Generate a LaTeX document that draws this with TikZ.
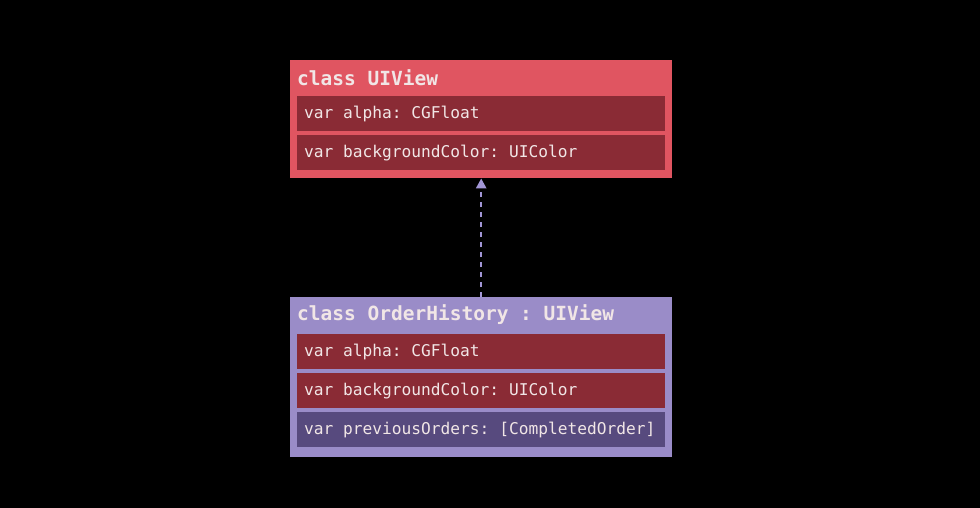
\documentclass[tikz,border=0pt]{standalone}
\usepackage{fontspec}
\setmonofont{DejaVu Sans Mono}
\usetikzlibrary{arrows.meta}
\definecolor{boxred}{HTML}{E05561}
\definecolor{rowred}{HTML}{8A2B35}
\definecolor{boxpurple}{HTML}{9A8CC8}
\definecolor{rowpurple}{HTML}{574A7E}
\definecolor{txt}{HTML}{F1E6E6}
\definecolor{arrowc}{HTML}{A296D6}
\tikzset{
  classbox/.style={fill=#1, draw=none, anchor=north west, minimum width=382pt, inner sep=0pt},
  rowbox/.style={fill=#1, draw=none, anchor=north west, minimum width=368pt, minimum height=35pt, inner sep=0pt},
  rowtext/.style={anchor=west, inner sep=0pt, text=txt, font=\ttfamily\fontsize{16.2}{18}\selectfont\frenchspacing},
  titletext/.style={anchor=west, inner sep=0pt, text=txt, font=\ttfamily\bfseries\fontsize{19.5}{22}\selectfont\frenchspacing},
  inherit/.style={draw=arrowc, line width=2.5pt, dash pattern=on 5pt off 5pt, -{Triangle[length=10pt,width=10pt]}}
}
\begin{document}
\begin{tikzpicture}[x=1pt,y=-1pt]
\fill[black] (0,0) rectangle (980,508);
\useasboundingbox (0,0) rectangle (980,508);
% superclass
\node[classbox=boxred, minimum height=118pt] (super) at (290,60) {};
\node[titletext] (supertitle) at (297,78) {class UIView};
\node[rowbox=rowred] (s1) at (297,96) {};
\node[rowtext] (s1t) at ([xshift=7pt,yshift=-0.5pt]s1.west) {var alpha: CGFloat};
\node[rowbox=rowred] (s2) at (297,135) {};
\node[rowtext] (s2t) at ([xshift=7pt,yshift=-0.5pt]s2.west) {var backgroundColor: UIColor};
% subclass
\node[classbox=boxpurple, minimum height=160pt] (sub) at (290,297) {};
\node[titletext] (subtitle) at (297,315) {class OrderHistory : UIView};
\node[rowbox=rowred] (o1) at (297,334) {};
\node[rowtext] (o1t) at ([xshift=7pt,yshift=-0.5pt]o1.west) {var alpha: CGFloat};
\node[rowbox=rowred] (o2) at (297,373) {};
\node[rowtext] (o2t) at ([xshift=7pt,yshift=-0.5pt]o2.west) {var backgroundColor: UIColor};
\node[rowbox=rowpurple] (o3) at (297,412) {};
\node[rowtext] (o3t) at ([xshift=7pt,yshift=-0.5pt]o3.west) {var previousOrders: [CompletedOrder]};
% inheritance arrow
\draw[inherit] (sub.north) -- (super.south);
\end{tikzpicture}
\end{document}
